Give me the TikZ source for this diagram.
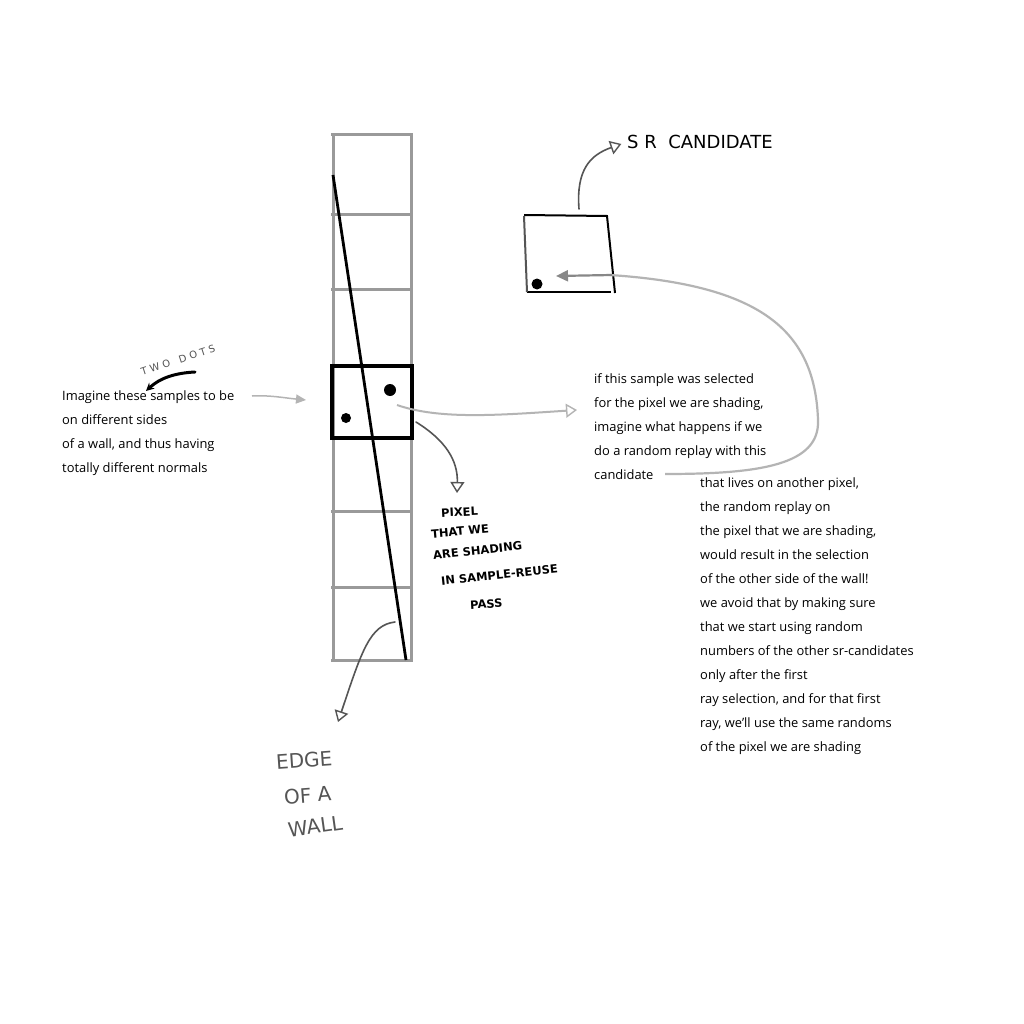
\documentclass[tikz,border=0pt]{standalone}
\usepackage{fontspec}
\setmainfont{Open Sans}
\newfontfamily\handfont{DejaVu Sans}
\usetikzlibrary{arrows.meta}
\definecolor{grid}{HTML}{9A9A9A}
\definecolor{lgray}{HTML}{B4B4B4}
\definecolor{dgray}{HTML}{555555}
\tikzset{
  txt/.style={anchor=base west, inner sep=0pt, font=\fontsize{12.9}{14}\selectfont},
  hand/.style={inner sep=0pt, font=\handfont\bfseries\fontsize{11.5}{13}\selectfont, text=black},
  gridline/.style={draw=grid, line width=3pt},
  openhead/.style={-{Triangle[open, length=11pt, width=14pt, line width=1.4pt]}},
  pen/.style={line width=1.6pt, line cap=round}
}
\begin{document}
\begin{tikzpicture}[x=1pt,y=-1pt]
\useasboundingbox[fill=white] (0,0) rectangle (1024,1024);
% column grid
\draw[gridline] (333,135) -- (333,660);
\draw[gridline] (411,135) -- (411,660);
\foreach \yy in {135,215,289,511,587,660} \draw[gridline] (331,\yy) -- (413,\yy);
% bold cell
\draw[line width=3.2pt, black] (332,366) rectangle (412,438);
\fill (390,390) circle (6);
\fill (346,418) circle (5);
% edge of wall line
\draw[line width=2.8pt] (333,175) -- (406,660);
% SR candidate box
\draw[line width=2pt] (524,215) -- (607,216) -- (615,293);
\draw[line width=2pt] (527,292) -- (611,292);
\draw[line width=2pt, dgray] (524,216) -- (527,292);
\fill (537,284) circle (5.5);
\node[hand, anchor=west, font=\handfont\fontsize{18}{20}\selectfont] (src) at (627,142) {S R\ \ CANDIDATE};
\coordinate (bt) at (579,209);
\draw[pen, dgray, openhead, shorten >=6pt] (bt) .. controls (576,170) and (590,155) .. (src.west);
% long curve from candidate to box
\node[txt] (t1a) at (594,383) {if this sample was selected};
\node[txt] (t1b) at (594,407) {for the pixel we are shading,};
\node[txt] (t1c) at (594,431) {imagine what happens if we};
\node[txt] (t1d) at (594,455) {do a random replay with this};
\node[txt] (t1e) at (594,479) {candidate};
\coordinate (cend) at (665,474);
\coordinate (ahead) at (556,276);
\draw[lgray, line width=2.2pt] (cend) .. controls (760,474) and (820,465) .. (818,420)
  .. controls (815,330) and (760,285) .. (610,275);
\draw[dgray!70, line width=2.2pt, -{Triangle[length=12pt,width=11pt]}] (612,275) -- (ahead);
% second text block
\foreach \l [count=\i from 0] in {{that lives on another pixel,},{the random replay on},{the pixel that we are shading,},{would result in the selection},{of the other side of the wall!},{we avoid that by making sure},{that we start using random},{numbers of the other sr-candidates},{only after the first},{ray selection, and for that first},{ray, we'll use the same randoms},{of the pixel we are shading}}
  \node[txt] (t2-\i) at (700,{487+24*\i}) {\l};
% left text
\node[txt] (l1) at (62,400) {Imagine these samples to be};
\node[txt] (l2) at (62,424) {on different sides};
\node[txt] (l3) at (62,448) {of a wall, and thus having};
\node[txt] (l4) at (62,472) {totally different normals};
\draw[lgray, line width=1.5pt, -{Triangle[length=10pt,width=9pt]}] (252,396) .. controls (270,395) and (285,398) .. (306,400);
% two dots
\node[inner sep=0pt, rotate=18, font=\handfont\fontsize{10}{12}\selectfont, text=dgray] (two) at (178,360) {T W O\ \ \ D O T S};
\draw[line width=3pt, line cap=round, -{Stealth[length=8pt,width=8pt]}] (195,372) .. controls (175,373) and (160,378) .. (146,391);
% arrow to right text
\draw[lgray, line width=2pt, openhead] (397,405) .. controls (440,420) and (500,415) .. (577,410);
% arrow to pixel label
\coordinate (pa) at (416,422);
\coordinate (pb) at (457,493);
\draw[pen, dgray, openhead] (pa) .. controls (445,440) and (458,460) .. (pb);
\node[hand, anchor=west, rotate=3] (p1) at (441,513) {PIXEL};
\node[hand, anchor=west, rotate=5] (p2) at (431,534) {THAT WE};
\node[hand, anchor=west, rotate=6] (p3) at (433,555) {ARE SHADING};
\node[hand, anchor=west, rotate=6] (p4) at (441,581) {IN SAMPLE-REUSE};
\node[hand, anchor=west, rotate=3] (p5) at (470,605) {PASS};
% edge of a wall
\coordinate (ea) at (395,622);
\coordinate (eb) at (338,722);
\draw[pen, dgray, openhead] (ea) .. controls (370,625) and (362,650) .. (eb);
\node[hand, anchor=west, font=\handfont\fontsize{20}{22}\selectfont, text=dgray, rotate=4] (e1) at (276,762) {EDGE};
\node[hand, anchor=west, font=\handfont\fontsize{20}{22}\selectfont, text=dgray, rotate=4] (e2) at (284,797) {OF A};
\node[hand, anchor=west, font=\handfont\fontsize{20}{22}\selectfont, text=dgray, rotate=8] (e3) at (288,830) {WALL};
\end{tikzpicture}
\end{document}
